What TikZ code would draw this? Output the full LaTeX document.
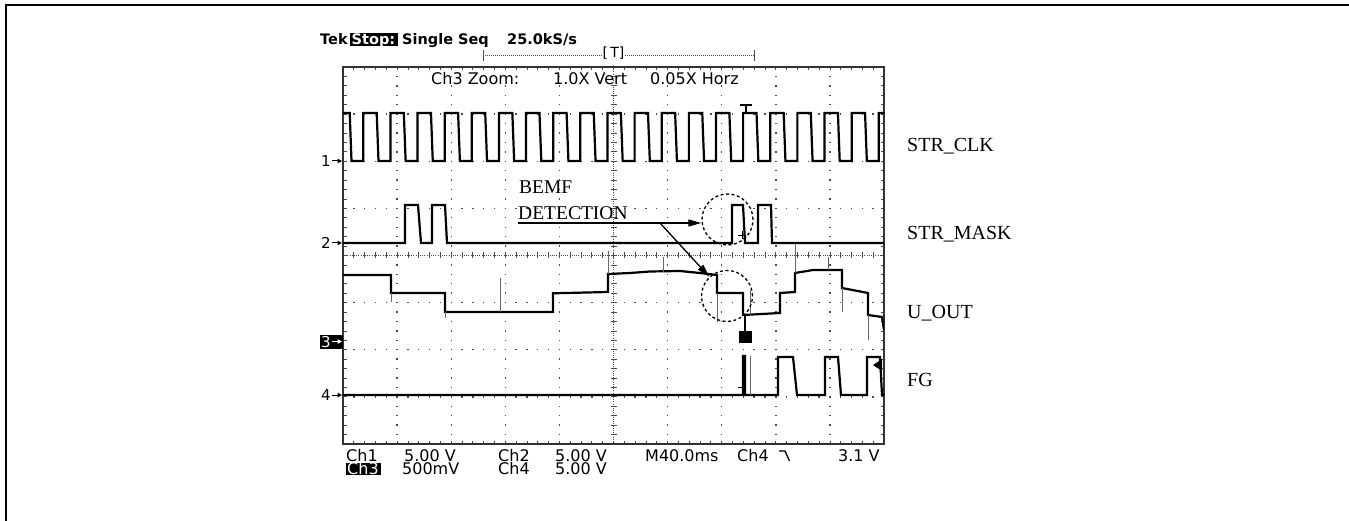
\documentclass[tikz,border=0pt]{standalone}
\usepackage{fontspec}
\setmainfont{Liberation Serif}
\newfontfamily\tekfont{DejaVu Sans}
\usetikzlibrary{arrows.meta}
\definecolor{gridc}{gray}{0.3}
\definecolor{spikec}{gray}{0.4}
\tikzset{
  trace/.style={line width=2.2pt, line join=miter, line cap=butt},
  spike/.style={line width=1pt, spikec},
  lbl/.style={font=\fontsize{20}{24}\selectfont, anchor=base west, inner sep=0pt},
  bemf/.style={font=\fontsize{19.5}{23}\selectfont, anchor=base west, inner sep=0pt},
  tek/.style={font=\tekfont\fontsize{16}{19}\selectfont, anchor=base west, inner sep=0pt},
  tekhead/.style={font=\tekfont\bfseries\fontsize{14.5}{17}\selectfont, anchor=base west, inner sep=0pt},
  chmark/.style={font=\tekfont\fontsize{15}{17}\selectfont, anchor=base west, inner sep=0pt},
  dashcirc/.style={circle, draw, line width=1.3pt, dash pattern=on 3pt off 2.5pt, minimum size=51pt, inner sep=0pt},
  arr/.style={line width=1.3pt, -{Triangle[length=13pt,width=7pt]}},
}
\begin{document}
\begin{tikzpicture}[x=1pt,y=-1pt]
\useasboundingbox (0,0) rectangle (1349,521);
% outer frame
\draw[line width=2pt] (6.3,521) -- (6.3,4.8) -- (1349,4.8);

% ---------- graticule ----------
\foreach \k in {1,2,3,4,6,7,8,9}
  \foreach \m in {1,...,39}
    \fill[gridc] ({343+\k*54.1-0.7},{67+\m*9.425-0.7}) rectangle ++(1.4,1.4);
\foreach \j in {1,2,3,5,6,7}
  \foreach \m in {1,...,49}
    \fill[gridc] ({343+\m*10.82-0.7},{67+\j*47.125-0.7}) rectangle ++(1.4,1.4);
% centre axes
\draw[gridc, line width=0.8pt, dash pattern=on 1pt off 1.2pt] (343,255.5) -- (884,255.5);
\draw[gridc, line width=0.8pt, dash pattern=on 1pt off 1.2pt] (613.5,67) -- (613.5,444);
\foreach \m in {1,...,49}
  \draw[gridc, line width=0.8pt] ({343+\m*10.82},252.5) -- ++(0,6);
\foreach \m in {1,...,39}
  \draw[gridc, line width=0.8pt] (610.5,{67+\m*9.425}) -- ++(6,0);
% frame ticks
\foreach \m in {1,...,39} {
  \draw[gridc, line width=0.8pt] (343,{67+\m*9.425}) -- ++(3.5,0);
  \draw[gridc, line width=0.8pt] (884,{67+\m*9.425}) -- ++(-3.5,0);
}
\foreach \m in {1,...,49} {
  \draw[gridc, line width=0.8pt] ({343+\m*10.82},67) -- ++(0,3.5);
  \draw[gridc, line width=0.8pt] ({343+\m*10.82},444) -- ++(0,-3.5);
}
\draw[line width=1.2pt, black!80] (343,67) rectangle (884,444);

% ---------- traces ----------
\begin{scope}
\clip (343,40) rectangle (884,450);
% STR_CLK
\draw[trace] (343,113) -- (349.7,113) -- (351.5,161)
  \foreach \k in {0,...,19} { -- ({363.3+\k*27.13},161) -- ({363.3+\k*27.13},113) -- ({376.7+\k*27.13},113) -- ({378.5+\k*27.13},161) };
% STR_MASK
\draw[trace] (343,243) -- (405,243) -- (405,205) -- (418,205) -- (421,243) -- (432,243) -- (432,205) -- (445,205) -- (447,243)
  -- (732,243) -- (732,205) -- (743,205) -- (745,243) -- (758,243) -- (758,205) -- (771,205) -- (772,243) -- (884,243);
% U_OUT
\draw[trace] (343,275) -- (391,275) -- (391,293) -- (445,293) -- (445,312) -- (553,312) -- (553,293.3) -- (608,292)
  -- (608,274) -- (630,273) -- (650,271.5) -- (680,271) -- (700,273) -- (717,275) -- (717,293) -- (743,293)
  -- (743,315) -- (780,313) -- (780,293) -- (795,292) -- (795,273) -- (813,270) -- (842,270) -- (842,288)
  -- (868,293) -- (868,315) -- (882,317) -- (884,330);
\draw[spike] (391,293) -- (391,302);
\draw[spike] (445,312) -- (445,318);
\draw[spike] (500.7,312) -- (500.7,278);
\draw[spike] (608,274) -- (608,251);
\draw[spike] (663,272) -- (663,257);
\draw[spike] (717,293) -- (717,322);
\draw[spike] (750,315) -- (750,290);
\draw[spike] (795,273) -- (795,244);
\draw[spike] (828,270) -- (828,257);
\draw[spike] (842,288) -- (842,312);
\draw[spike] (868,315) -- (868,340);
\draw[line width=1.6pt] (745,315) -- (745,331);
\fill (739,331) rectangle (752,343);
% FG
\draw[trace] (343,395) -- (743,395) -- (743,356) -- (745,356) -- (745,395) -- (778,395) -- (778,357) -- (793,357) -- (797,395)
  -- (825,395) -- (825,357) -- (838,357) -- (841,395) -- (867,395) -- (867,357) -- (880,357) -- (882,395) -- (884,395);
\draw[spike] (750,395) -- (750,356);
\end{scope}
% trigger markers
\draw[line width=1.2pt] (740,105) -- (752,105) (746,105) -- (746,113);
\fill (873,365) -- (882,359) -- (882,371) -- cycle;
\draw[line width=0.8pt] (738,235) -- (746,235) (742,231) -- (742,239);
\draw[line width=0.8pt] (738,387) -- (746,387) (742,383) -- (742,391);

% ---------- channel markers ----------
\node[chmark] (m1) at (321,166.5) {1};
\draw[line width=1pt, -{Triangle[length=4.5pt,width=4.5pt]}] (332,161) -- (342,161);
\node[chmark] (m2) at (321,248.5) {2};
\draw[line width=1pt, -{Triangle[length=4.5pt,width=4.5pt]}] (332,243) -- (342,243);
\fill (320,334.5) rectangle (343,348.5);
\node[chmark, text=white] (m3) at (321,347) {3};
\draw[white, line width=1pt, -{Triangle[length=4.5pt,width=4.5pt]}] (332,341.5) -- (342,341.5);
\node[chmark] (m4) at (321,400.5) {4};
\draw[line width=1pt, -{Triangle[length=4.5pt,width=4.5pt]}] (332,395) -- (342,395);

% ---------- scope texts ----------
\node[tekhead] (tek) at (320,44.7) {Tek};
\fill (350,33) rectangle (398,46.5);
\node[tekhead, text=white] (stop) at (351.5,44.7) {Stop:};
\node[tekhead] (single) at (402,44.7) {Single Seq};
\node[tekhead] (rate) at (507,44.7) {25.0kS/s};
\draw[gridc, line width=0.9pt, dash pattern=on 1pt off 1pt] (483,55) -- (754,55);
\draw[gridc, line width=0.9pt] (483,50) -- (483,61) (754,50) -- (754,61);
\node[font=\tekfont\fontsize{14}{16}\selectfont, inner sep=0pt, fill=white] (tt) at (613.5,53) {[\,T]};
\node[tek] (zoom) at (431,85) {Ch3 Zoom:};
\node[tek] (vert) at (553,85) {1.0X Vert};
\node[tek] (horz) at (650,85) {0.05X Horz};

\node[tek] (b1) at (346,461) {Ch1};
\node[tek] (b2) at (404,461) {5.00 V};
\node[tek] (b3) at (498,461) {Ch2};
\node[tek] (b4) at (555,461) {5.00 V};
\node[tek] (b5) at (645,461) {M40.0ms};
\node[tek] (b6) at (737,461) {Ch4};
\draw[line width=1.3pt] (779,451) -- (785,451) -- (789.5,461);
\node[tek] (b7) at (838,461) {3.1 V};
\fill (346,463) rectangle (381,475);
\node[tek, text=white] (b8) at (347,474.5) {Ch3};
\node[tek] (b9) at (402,474.5) {500mV};
\node[tek] (b10) at (498,474.5) {Ch4};
\node[tek] (b11) at (555,474.5) {5.00 V};

% ---------- labels ----------
\node[lbl] (lclk) at (907,151.7) {STR\_CLK};
\node[lbl] (lmask) at (907,240) {STR\_MASK};
\node[lbl] (luout) at (907,319) {U\_OUT};
\node[lbl] (lfg) at (907,386.7) {FG};

\node[bemf] (bemf1) at (519,194) {BEMF};
\node[bemf] (bemf2) at (518,219.3) {DETECTION};
\node[dashcirc] (c1) at (727.5,219.5) {};
\node[dashcirc] (c2) at (727,296) {};
\coordinate (bstart) at (518,223);
\coordinate (bsplit) at (660,223);
\draw[arr] (bstart) -- (c1.west |- bstart);
\draw[arr] (bsplit) -- (c2);
\end{tikzpicture}
\end{document}
